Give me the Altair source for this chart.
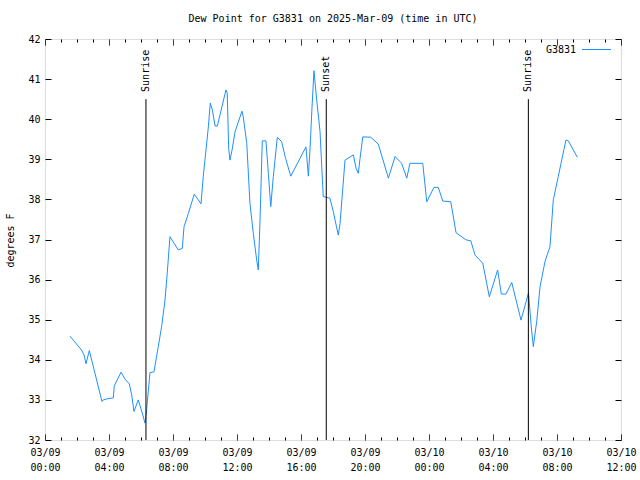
import altair as alt
import pandas as pd

# Dew point series (hours since 2025-03-09 00:00 UTC, degrees F)
hours = [1.56, 2.29, 2.44, 2.56, 2.77, 3.56, 3.64, 3.92, 4.27, 4.33, 4.75, 5.0, 5.27, 5.42,
         5.56, 5.83, 6.08, 6.25, 6.36, 6.56, 6.81, 7.08, 7.29, 7.5, 7.64, 7.81, 8.33, 8.58,
         8.69, 8.96, 9.33, 9.75, 9.89, 10.21, 10.33, 10.46, 10.63, 10.77, 11.31, 11.39, 11.48,
         11.56, 11.69, 11.88, 12.31, 12.39, 12.61, 12.81, 13.02, 13.23, 13.33, 13.44, 13.58,
         13.81, 13.96, 14.11, 14.27, 14.52, 14.79, 15.04, 15.36, 16.31, 16.46, 16.56, 16.69,
         16.81, 16.98, 17.19, 17.39, 17.81, 18.02, 18.33, 18.44, 18.75, 19.27, 19.44, 19.58,
         19.69, 19.86, 20.36, 20.83, 21.46, 21.88, 22.29, 22.61, 22.81, 23.61, 23.86, 24.31,
         24.58, 24.86, 25.36, 25.69, 26.31, 26.61, 26.88, 27.36, 27.77, 28.29, 28.52, 28.81,
         29.17, 29.75, 30.22, 30.38, 30.52, 30.73, 30.94, 31.25, 31.56, 31.77, 32.08, 32.25,
         32.56, 32.71, 33.27]
dewpoint = [34.59, 34.24, 34.12, 33.90, 34.23, 32.96, 33.00, 33.03, 33.05, 33.35, 33.69, 33.52,
            33.40, 33.12, 32.71, 33.00, 32.67, 32.42, 32.79, 33.68, 33.70, 34.33, 34.83, 35.49,
            36.16, 37.07, 36.74, 36.78, 37.32, 37.65, 38.13, 37.89, 38.57, 39.81, 40.40, 40.23,
            39.83, 39.83, 40.73, 40.65, 39.27, 38.98, 39.23, 39.69, 40.20, 40.06, 39.40, 37.90,
            37.15, 36.49, 36.24, 37.49, 39.46, 39.46, 38.65, 37.82, 38.57, 39.55, 39.44, 39.02,
            38.58, 39.31, 38.58, 39.23, 40.31, 41.21, 40.48, 39.69, 38.07, 38.03, 37.69, 37.11,
            37.40, 38.98, 39.11, 38.78, 38.65, 39.02, 39.56, 39.55, 39.38, 38.53, 39.07, 38.90,
            38.53, 38.90, 38.90, 37.94, 38.30, 38.30, 37.96, 37.94, 37.17, 36.99, 36.97, 36.61,
            36.41, 35.57, 36.24, 35.64, 35.64, 35.93, 34.99, 35.67, 34.87, 34.33, 34.95, 35.82,
            36.45, 36.82, 37.99, 38.57, 38.90, 39.48, 39.46, 39.05]

event_names = ["Sunrise", "Sunset", "Sunrise"]
event_hours = [6.31, 17.58, 30.21]

tick_dates = ["03/09", "03/09", "03/09", "03/09", "03/09", "03/09", "03/10", "03/10", "03/10", "03/10"]
tick_times = ["00:00", "04:00", "08:00", "12:00", "16:00", "20:00", "00:00", "04:00", "08:00", "12:00"]

series_name = "G3831"
title_text = "Dew Point for G3831 on 2025-Mar-09 (time in UTC)"

FONT = "DejaVu Sans Mono"
LINE_COLOR = "#1e90ff"

df = pd.DataFrame({"hour": hours, "dew": dewpoint})
ev = pd.DataFrame({"name": event_names, "hour": event_hours,
                   "y0": [32] * len(event_hours), "y1": [40.5] * len(event_hours),
                   "ylab": [40.68] * len(event_hours)})
leg = pd.DataFrame({"name": [series_name]})

dates_js = "[" + ",".join(f"'{d}'" for d in tick_dates) + "]"
times_js = "[" + ",".join(f"'{t}'" for t in tick_times) + "]"
label_expr = (f"datum.value % 4 === 0 ? [{dates_js}[datum.value/4], {times_js}[datum.value/4]] : ''")

hour_ticks = list(range(0, 37))
y_ticks = list(range(32, 43))

minor_dash = {"condition": {"test": "datum.value % 4 !== 0", "value": [0, 3, 3]}, "value": [1, 0]}

xscale = alt.Scale(domain=[0, 36], nice=False, zero=False)
yscale = alt.Scale(domain=[32, 42], nice=False, zero=False)

x_bottom = alt.Axis(orient="bottom", values=hour_ticks, labelExpr=label_expr, grid=False,
                    domain=False, tickSize=6, offset=-6, tickDash=minor_dash, tickColor="black",
                    labelFont=FONT, labelFontSize=10, labelColor="black", labelPadding=7,
                    labelLineHeight=15, labelAngle=0, labelAlign="center", labelBaseline="top",
                    labelOverlap=False, labelFlush=False, title=None)
y_left = alt.Axis(orient="left", values=y_ticks, grid=False, domain=False, tickSize=6, offset=-6,
                  tickColor="black", labelFont=FONT, labelFontSize=10, labelColor="black",
                  labelPadding=5, title="degrees F", titleFont=FONT, titleFontSize=10,
                  titleFontWeight="normal", titleColor="black", titleAngle=270, titleX=-41,
                  titleY=201, titleAlign="center", titleBaseline="middle")
x_top = alt.Axis(orient="top", values=hour_ticks, grid=False, domain=False, labels=False,
                 tickSize=6, offset=-6, tickDash=minor_dash, tickColor="black", title=None)
y_right = alt.Axis(orient="right", values=y_ticks, grid=False, domain=False, labels=False,
                   tickSize=6, offset=-6, tickColor="black", title=None)

line = alt.Chart(df).mark_line(color=LINE_COLOR, strokeWidth=1).encode(
    x=alt.X("hour:Q", scale=xscale, axis=x_bottom),
    y=alt.Y("dew:Q", scale=yscale, axis=y_left),
)

rules = alt.Chart(ev).mark_rule(color="black", strokeWidth=1).encode(
    x=alt.X("hour:Q", scale=xscale, axis=x_top),
    y=alt.Y("y0:Q", scale=yscale, axis=y_right),
    y2="y1:Q",
)

labels = alt.Chart(ev).mark_text(angle=270, align="left", baseline="middle", font=FONT,
                                 fontSize=10, color="black").encode(
    x=alt.X("hour:Q", scale=xscale, axis=None),
    y=alt.Y("ylab:Q", scale=yscale, axis=None),
    text="name:N",
)

leg_text = alt.Chart(leg).mark_text(align="right", baseline="middle", font=FONT, fontSize=10,
                                    color="black").encode(
    x=alt.value(531), y=alt.value(11), text="name:N")
leg_line = alt.Chart(leg).mark_rule(color=LINE_COLOR, strokeWidth=1).encode(
    x=alt.value(537), x2=alt.value(566), y=alt.value(10.5))

chart = alt.layer(line, rules, labels, leg_text, leg_line).resolve_axis(
    x="independent", y="independent"
).properties(
    width=576, height=401,
    title=alt.TitleParams(title_text, font=FONT, fontSize=10, fontWeight="normal",
                          color="black", anchor="middle", offset=10),
    autosize=alt.AutoSizeParams(type="none"),
    padding={"left": 45, "top": 39, "right": 19, "bottom": 40},
).configure_view(stroke="black", strokeWidth=1).configure(background="white")

chart.save("out.html", embed_options={"renderer": "svg", "actions": False})
